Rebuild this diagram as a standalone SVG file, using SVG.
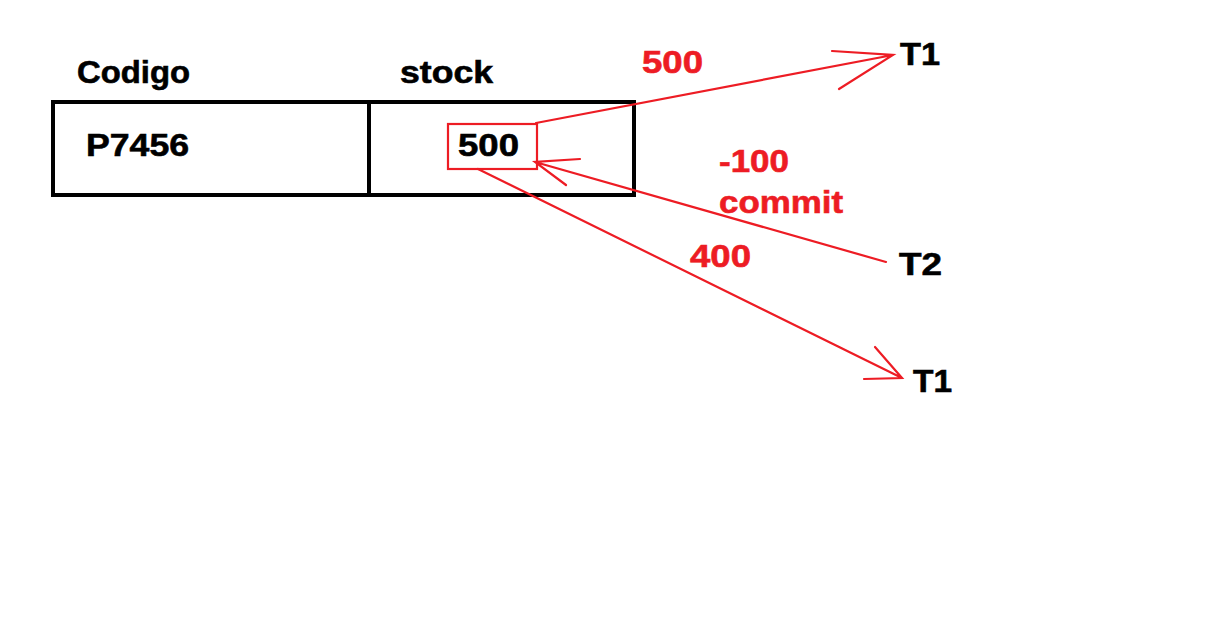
<svg xmlns="http://www.w3.org/2000/svg" width="1208" height="644" viewBox="0 0 1208 644">
<style>
.t{font-family:"Liberation Sans",Arial,sans-serif;font-weight:bold;font-size:31px;stroke-width:0.6}
.k{fill:#000;stroke:#000}
.r{fill:#ed1c24;stroke:#ed1c24}
.ln{stroke:#ed1c24;stroke-width:2.2;fill:none;stroke-linecap:round}
</style>
<rect width="1208" height="644" fill="#fff"/>
<g id="table">
<rect x="53" y="102" width="581" height="93" fill="none" stroke="#000" stroke-width="4"/>
<line x1="369" y1="102" x2="369" y2="195" stroke="#000" stroke-width="4"/>
<text class="t k" x="77" y="83" textLength="113" lengthAdjust="spacingAndGlyphs">Codigo</text>
<text class="t k" x="400" y="83" textLength="93" lengthAdjust="spacingAndGlyphs">stock</text>
<text class="t k" x="86" y="156" textLength="103" lengthAdjust="spacingAndGlyphs">P7456</text>
</g>
<g id="cell">
<rect x="448" y="124" width="89" height="45" fill="none" stroke="#ed1c24" stroke-width="2.2"/>
<text class="t k" x="458" y="156" textLength="61" lengthAdjust="spacingAndGlyphs">500</text>
</g>
<g id="t1a"><text class="t k" x="900" y="65" textLength="40" lengthAdjust="spacingAndGlyphs">T1</text></g>
<g id="t2"><text class="t k" x="899" y="275" textLength="43" lengthAdjust="spacingAndGlyphs">T2</text></g>
<g id="t1b"><text class="t k" x="913" y="392" textLength="39" lengthAdjust="spacingAndGlyphs">T1</text></g>
<g id="connectors">
<path class="ln" d="M536 123 L893 55 M832 51 L893 55 L839 89"/>
<path class="ln" d="M886 262 L535 162 M580 159 L535 162 L566 185"/>
<path class="ln" d="M478 169 L902 378 M875 347 L902 378 L864 379"/>
<text class="t r" x="642" y="73" textLength="61" lengthAdjust="spacingAndGlyphs">500</text>
<text class="t r" x="719" y="172" textLength="70" lengthAdjust="spacingAndGlyphs">-100</text>
<text class="t r" x="719" y="213" textLength="124" lengthAdjust="spacingAndGlyphs">commit</text>
<text class="t r" x="690" y="267" textLength="61" lengthAdjust="spacingAndGlyphs">400</text>
</g>
</svg>
